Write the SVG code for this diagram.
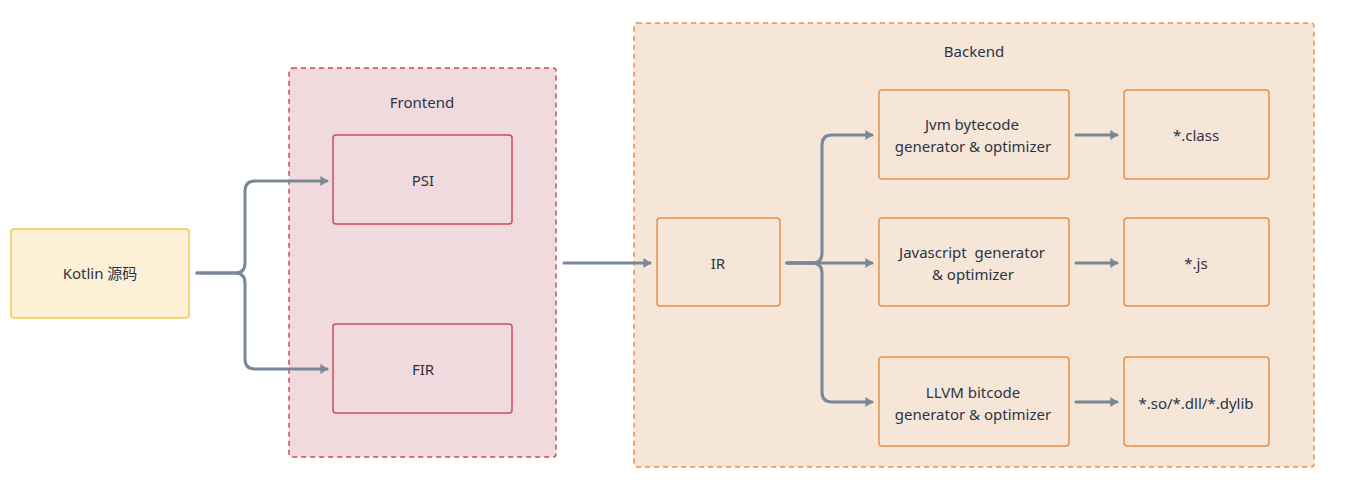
<svg xmlns="http://www.w3.org/2000/svg" width="1349" height="490" viewBox="0 0 1349 490">
<defs>
<marker id="ah" markerWidth="4" markerHeight="4" refX="2.2" refY="2" orient="auto" markerUnits="strokeWidth">
<path d="M0,0.3 L2.6,2 L0,3.7 Z" fill="#7a8796"/>
</marker>
<style>
text{font-family:"Noto Sans","Noto Sans CJK SC",sans-serif;font-size:15px;fill:#2b3445;text-anchor:middle;dominant-baseline:central;white-space:pre}
.grp-f{fill:#f1dade;stroke:#d1495b;stroke-width:1.5;stroke-dasharray:5 4}
.grp-b{fill:#f6e6d8;stroke:#e8904a;stroke-width:1.5;stroke-dasharray:5 4}
.nf{fill:none;stroke:#d1495b;stroke-width:1.5}
.nb{fill:none;stroke:#e8904a;stroke-width:1.5}
.ny{fill:#fcf1d6;stroke:#f5c94b;stroke-width:1.5}
.c{fill:none;stroke:#7a8796;stroke-width:3;stroke-linecap:round;stroke-linejoin:round;marker-end:url(#ah)}
</style>
</defs>
<rect width="1349" height="490" fill="#ffffff"/>
<g id="frontend">
<rect class="grp-f" x="289" y="68" width="267" height="389" rx="3"/>
<text x="422" y="102">Frontend</text>
</g>
<g id="backend">
<rect class="grp-b" x="634" y="23" width="680" height="444" rx="3"/>
<text x="974" y="51">Backend</text>
</g>
<g id="kotlin">
<rect class="ny" x="11" y="229" width="178" height="89" rx="3"/>
<text x="100" y="273">Kotlin 源码</text>
</g>
<g id="psi">
<rect class="nf" x="333" y="135" width="179" height="89" rx="3"/>
<text x="423" y="180">PSI</text>
</g>
<g id="fir">
<rect class="nf" x="333" y="324" width="179" height="89" rx="3"/>
<text x="423" y="369">FIR</text>
</g>
<g id="ir">
<rect class="nb" x="657" y="218" width="123" height="88" rx="3"/>
<text x="718" y="263">IR</text>
</g>
<g id="jvm">
<rect class="nb" x="879" y="90" width="190" height="89" rx="3"/>
<text x="972" y="124">Jvm bytecode</text>
<text x="973" y="146">generator &amp; optimizer</text>
</g>
<g id="js">
<rect class="nb" x="879" y="218" width="190" height="88" rx="3"/>
<text x="972" y="252" xml:space="preserve">Javascript  generator</text>
<text x="973" y="274">&amp; optimizer</text>
</g>
<g id="llvm">
<rect class="nb" x="879" y="357" width="190" height="89" rx="3"/>
<text x="973" y="392">LLVM bitcode</text>
<text x="973" y="414">generator &amp; optimizer</text>
</g>
<g id="class">
<rect class="nb" x="1124" y="90" width="145" height="89" rx="3"/>
<text x="1196" y="135">*.class</text>
</g>
<g id="jsout">
<rect class="nb" x="1124" y="218" width="145" height="88" rx="3"/>
<text x="1196" y="263">*.js</text>
</g>
<g id="native">
<rect class="nb" x="1124" y="357" width="145" height="89" rx="3"/>
<text x="1196" y="403">*.so/*.dll/*.dylib</text>
</g>
<g id="connectors">
<path class="c" d="M197,273 H235 Q245,273 245,263 V191 Q245,181 255,181 H327"/>
<path class="c" d="M197,273 H235 Q245,273 245,283 V359 Q245,369 255,369 H327"/>
<path class="c" d="M564,263 H650"/>
<path class="c" d="M787,263 H812 Q822,263 822,253 V145 Q822,135 832,135 H872"/>
<path class="c" d="M787,263 H872"/>
<path class="c" d="M787,263 H812 Q822,263 822,273 V392 Q822,402 832,402 H872"/>
<path class="c" d="M1076,135 H1117"/>
<path class="c" d="M1076,263 H1117"/>
<path class="c" d="M1076,402 H1117"/>
</g>
</svg>
